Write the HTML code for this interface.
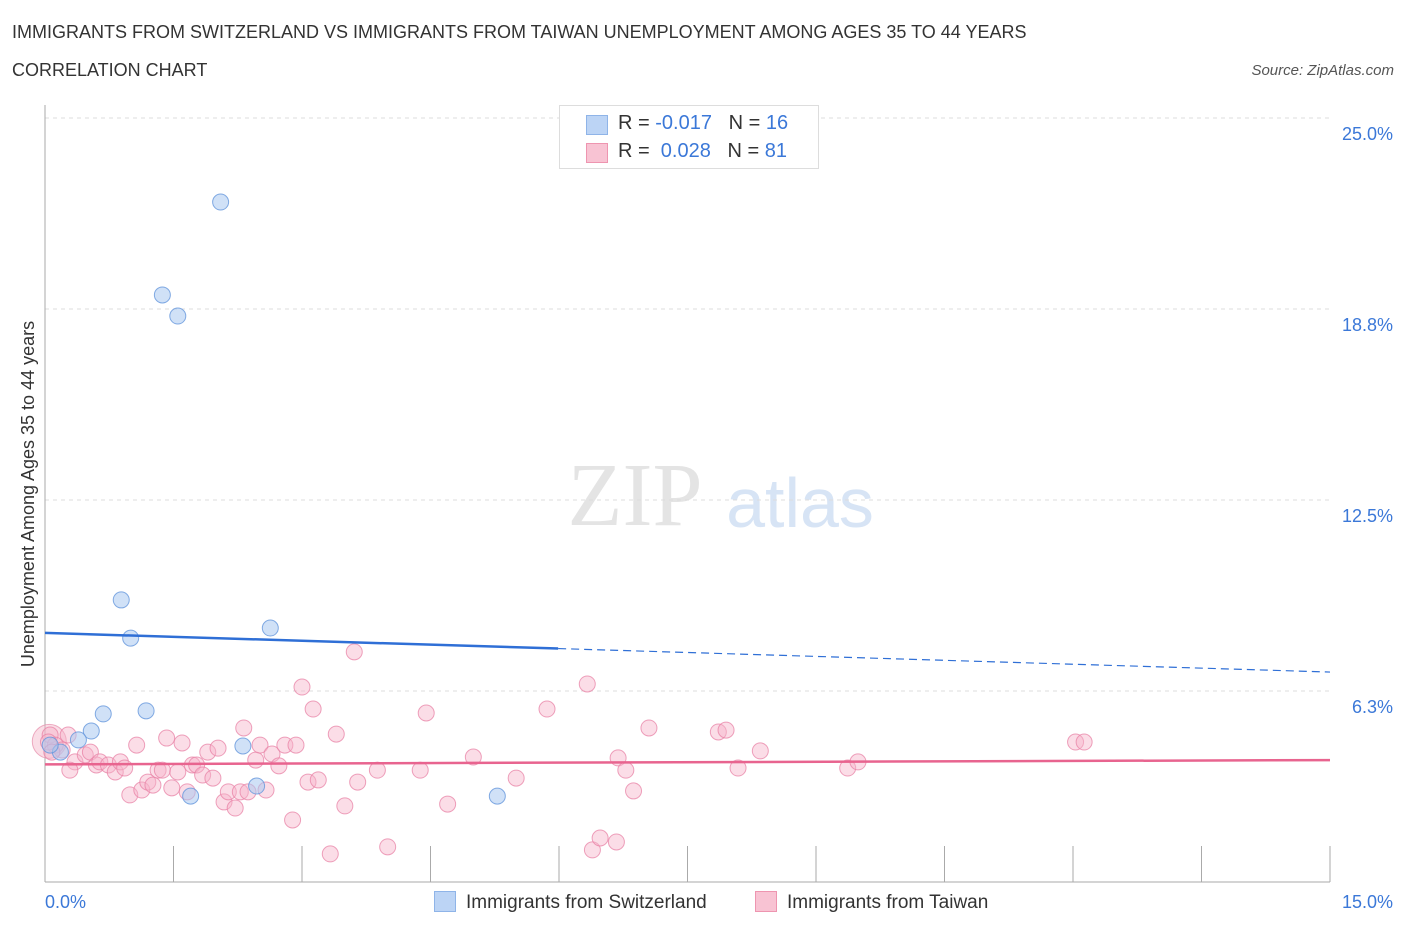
<!DOCTYPE html>
<html><head><meta charset="utf-8"><style>
body{margin:0;background:#fff;font-family:"Liberation Sans",sans-serif;}
#wrap{position:relative;width:1406px;height:930px;overflow:hidden;}
.t{position:absolute;white-space:nowrap;}
</style></head><body>
<div id="wrap">
<div class="t" style="left:12px;top:22px;font-size:18px;color:#333;">IMMIGRANTS FROM SWITZERLAND VS IMMIGRANTS FROM TAIWAN UNEMPLOYMENT AMONG AGES 35 TO 44 YEARS</div>
<div class="t" style="left:12px;top:60px;font-size:18px;color:#333;">CORRELATION CHART</div>
<div class="t" style="right:12px;top:62px;font-size:15px;color:#555;font-style:italic;">Source: ZipAtlas.com</div>
<svg id="svg" width="1406" height="930" style="position:absolute;left:0;top:0"></svg>
</div>
<script>
const blueX=[2.05,1.37,1.55,0.89,1.00,2.63,0.68,1.18,0.54,0.39,0.18,0.06,2.31,2.47,1.70,5.28];
const blueY=[22.25,19.21,18.52,9.23,7.98,8.31,5.50,5.60,4.94,4.65,4.25,4.48,4.45,3.14,2.81,2.81];
const pinkX=[0.06,0.12,0.20,0.27,0.35,0.47,0.53,0.60,0.64,0.74,0.82,0.88,0.93,0.99,1.07,1.13,1.20,1.26,1.32,1.37,1.42,1.48,1.55,1.60,1.66,1.72,1.77,1.84,1.90,1.96,2.02,2.09,2.14,2.22,2.28,2.32,2.37,2.46,2.51,2.58,2.65,2.73,2.80,2.89,2.93,3.00,3.07,3.13,3.19,3.33,3.40,3.50,3.61,3.65,3.88,4.00,4.38,4.45,4.70,5.00,5.50,5.86,6.33,6.39,6.48,6.67,6.69,6.78,6.87,7.05,7.86,7.95,8.09,8.35,9.37,9.49,12.03,12.13,0.04,0.08,0.29];
const pinkY=[4.81,4.48,4.32,4.81,3.93,4.16,4.25,3.83,3.93,3.83,3.60,3.93,3.73,2.85,4.48,3.01,3.27,3.17,3.66,3.66,4.71,3.08,3.60,4.55,2.95,3.83,3.83,3.50,4.25,3.40,4.38,2.62,2.95,2.42,2.95,5.04,2.95,3.99,4.48,3.01,4.19,3.80,4.48,2.03,4.48,6.38,3.27,5.66,3.34,0.92,4.84,2.49,7.53,3.27,3.66,1.15,3.66,5.53,2.55,4.09,3.40,5.66,6.48,1.05,1.44,1.31,4.06,3.66,2.98,5.04,4.91,4.97,3.73,4.29,3.73,3.93,4.58,4.58,4.58,4.25,3.66];
const yTicks=[25.0,18.75,12.5,6.25];
const yTickLabels=["25.0%","18.8%","12.5%","6.3%"];
const xEnds=["0.0%","15.0%"];
const blueTrend=[8.15,6.87];
const pinkTrend=[3.85,3.99];
const blueSolidEnd=5.99;

const X=v=>45+v*(1285/15);
const Y=v=>882-v*30.56;
const svg=document.getElementById('svg');
const NS='http://www.w3.org/2000/svg';
function mk(tag,attrs){const e=document.createElementNS(NS,tag);for(const k in attrs)e.setAttribute(k,attrs[k]);svg.appendChild(e);return e;}

// watermark
let w=mk('text',{x:635,y:525,'font-size':90,'font-family':'Liberation Serif,serif',fill:'#e4e4e4','text-anchor':'middle'});w.textContent='ZIP';


let w2=mk('text',{x:800,y:527,'font-size':70,'font-family':'Liberation Sans,sans-serif',fill:'#d7e4f5','text-anchor':'middle'});w2.textContent='atlas';



yTicks.forEach((v,i)=>{
 const g=mk('line',{x1:45,x2:1330,y1:Y(v),y2:Y(v),stroke:'#ddd','stroke-dasharray':'4,4'});
 
 
 const t=mk('text',{x:1393,y:Y(v)+22,'font-size':18,fill:'#3b78d8','text-anchor':'end','font-family':'Liberation Sans,sans-serif'});
 t.textContent=yTickLabels[i];
 
 
});
let ax=mk('line',{x1:45,x2:45,y1:105,y2:882,stroke:'#aaa'});


let bx=mk('line',{x1:45,x2:1330,y1:882,y2:882,stroke:'#aaa'});


for(let i=0;i<=10;i++){
 const tk=mk('line',{x1:X(i*1.5),x2:X(i*1.5),y1:846,y2:882,stroke:'#aaa'});
 
 
}
let xl=mk('text',{x:45,y:908,'font-size':18,fill:'#3b78d8','font-family':'Liberation Sans,sans-serif'});xl.textContent=xEnds[0];


let xr=mk('text',{x:1393,y:908,'font-size':18,fill:'#3b78d8','text-anchor':'end','font-family':'Liberation Sans,sans-serif'});xr.textContent=xEnds[1];


let yt=mk('text',{x:34,y:494,'font-size':18,fill:'#333','text-anchor':'middle',transform:'rotate(-90 34 494)','font-family':'Liberation Sans,sans-serif'});
yt.textContent='Unemployment Among Ages 35 to 44 years';



let big=mk('circle',{cx:X(0.05),cy:Y(4.6),r:17,fill:'rgba(245,180,200,0.45)',stroke:'rgba(230,140,170,0.7)'});


pinkX.forEach((x,i)=>{
 const c=mk('circle',{cx:X(x),cy:Y(pinkY[i]),r:8,fill:'rgba(246,180,201,0.45)',stroke:'rgba(232,130,165,0.75)','stroke-width':1});
 
 
});
blueX.forEach((x,i)=>{
 const c=mk('circle',{cx:X(x),cy:Y(blueY[i]),r:8,fill:'rgba(170,200,240,0.55)',stroke:'rgba(100,150,220,0.8)','stroke-width':1});
 
 
});
const by=x=>blueTrend[0]+(blueTrend[1]-blueTrend[0])*x/15;
let bl=mk('line',{x1:X(0),y1:Y(by(0)),x2:X(blueSolidEnd),y2:Y(by(blueSolidEnd)),stroke:'#2f6fd6','stroke-width':2.5});


let bd=mk('line',{x1:X(blueSolidEnd),y1:Y(by(blueSolidEnd)),x2:X(15),y2:Y(by(15)),stroke:'#2f6fd6','stroke-width':1.2,'stroke-dasharray':'8,5'});


let pl=mk('line',{x1:X(0),y1:Y(pinkTrend[0]),x2:X(15),y2:Y(pinkTrend[1]),stroke:'#e8648f','stroke-width':2.5});


</script>
<div style="position:absolute;left:559px;top:105px;width:258px;height:62px;border:1px solid #ddd;background:#fff;font-size:20px;color:#333;">
 <div style="position:absolute;left:26px;top:9px;width:20px;height:18px;background:#bcd4f5;border:1px solid #8fb4e8;"></div>
 <div class="t" style="left:58px;top:6px;">R = <span style="color:#3b78d8">-0.017</span>&nbsp;&nbsp;&nbsp;N = <span style="color:#3b78d8">16</span></div>
 <div style="position:absolute;left:26px;top:37px;width:20px;height:18px;background:#f8c3d3;border:1px solid #ee95b0;"></div>
 <div class="t" style="left:58px;top:34px;">R = &nbsp;<span style="color:#3b78d8">0.028</span>&nbsp;&nbsp;&nbsp;N = <span style="color:#3b78d8">81</span></div>
</div>
<div style="position:absolute;left:434px;top:891px;font-size:19px;color:#333;white-space:nowrap;">
 <span style="display:inline-block;width:20px;height:19px;background:#bcd4f5;border:1px solid #8fb4e8;vertical-align:-4px;margin-right:10px;"></span>Immigrants from Switzerland</div>
<div style="position:absolute;left:755px;top:891px;font-size:19px;color:#333;white-space:nowrap;">
 <span style="display:inline-block;width:20px;height:19px;background:#f8c3d3;border:1px solid #ee95b0;vertical-align:-4px;margin-right:10px;"></span>Immigrants from Taiwan</div>
</body></html>
